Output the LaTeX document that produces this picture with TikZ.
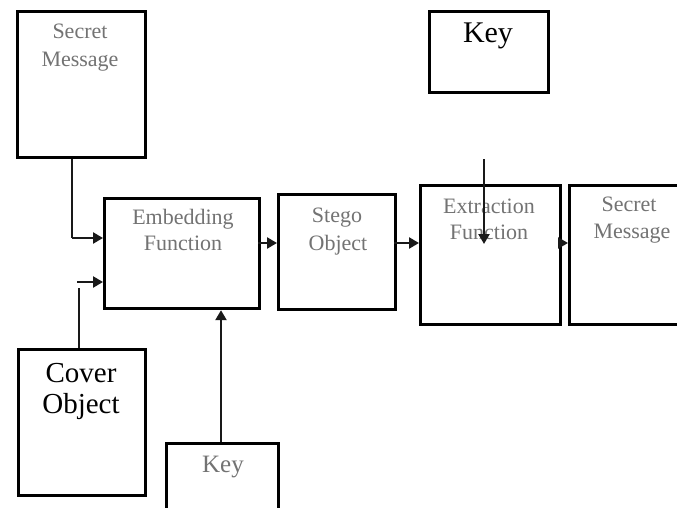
\documentclass[tikz,border=0pt]{standalone}
\usepackage{fontspec}
\setmainfont{Liberation Serif}
\usetikzlibrary{arrows.meta}
\begin{document}
\begin{tikzpicture}[x=1pt,y=-1pt,
  box/.style={draw=black,line width=3.2pt,rectangle,inner sep=0pt,anchor=north west},
  small/.style={anchor=base,inner sep=0pt,text=black!55,font=\fontsize{22}{26}\selectfont},
  big/.style={anchor=base,inner sep=0pt,text=black,font=\fontsize{29}{32}\selectfont},
  conn/.style={draw=black!90,line width=2.3pt,-{Triangle[length=10pt,width=11pt]}},
  plain/.style={draw=black!90,line width=2.8pt}]
\useasboundingbox (0,0) rectangle (677,508);
\fill[white] (0,0) rectangle (677,508);
% boxes
\node[box,minimum width=128pt,minimum height=146pt] (smsg) at (16,10) {};
\node[box,minimum width=155pt,minimum height=110pt] (emb) at (103,197) {};
\node[box,minimum width=117pt,minimum height=115pt] (stego) at (277,193) {};
\node[box,minimum width=119pt,minimum height=81pt] (keyt) at (428,10) {};
\node[box,minimum width=140pt,minimum height=139pt] (ext) at (419,184) {};
\node[box,minimum width=130pt,minimum height=139pt] (rmsg) at (568,184) {};
\node[box,minimum width=127pt,minimum height=146pt] (cover) at (17,348) {};
\node[box,minimum width=112pt,minimum height=90pt] (keyb) at (165,442) {};
% labels
\node[small] at (80,39) {Secret};
\node[small] at (80,67) {Message};
\node[small] at (183,224) {Embedding};
\node[small] at (183,250) {Function};
\node[small] at (337,222) {Stego};
\node[small] at (338,250) {Object};
\node[small] at (489,213) {Extraction};
\node[small] at (489,239) {Function};
\node[small] at (629,211) {Secret};
\node[small] at (632,238) {Message};
\node[small,font=\fontsize{25}{28}\selectfont] at (223,472) {Key};
\node[big] at (81,382) {Cover};
\node[big] at (81,413) {Object};
\node[big,font=\fontsize{30}{32}\selectfont] at (488,43) {Key};
% connectors
\coordinate (bendA) at (72,238);
\draw[plain] (smsg.south -| bendA) -- (bendA);
\draw[conn] (bendA) -- (emb.west |- bendA);
\coordinate (coverTop) at (79,288);
\coordinate (coverIn) at (77,282);
\draw[plain] (cover.north -| coverTop) -- (coverTop);
\draw[conn] (coverIn) -- (emb.west |- coverIn);
\draw[conn] (keyb.north -| 221,0) -- (emb.south -| 221,0);
\coordinate (embOut) at (258,243);
\draw[conn] (embOut) -- (stego.west |- embOut);
\coordinate (stegoOut) at (394,243);
\draw[conn] (stegoOut) -- (ext.west |- stegoOut);
\coordinate (keyLine) at (484,159);
\coordinate (keyTip) at (484,244);
\draw[conn] (keyLine) -- (keyTip);
\coordinate (extOut) at (559,243);
\draw[conn] (extOut) -- (rmsg.west |- extOut);
\end{tikzpicture}
\end{document}
